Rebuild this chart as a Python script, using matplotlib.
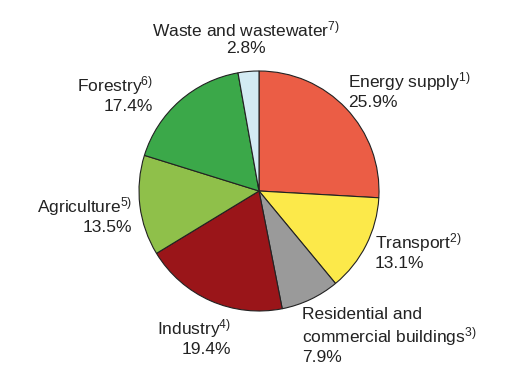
import matplotlib.pyplot as plt

# Parts des émissions par secteur
sectors = ["Energy supply", "Transport", "Residential and\ncommercial buildings",
           "Industry", "Agriculture", "Forestry", "Waste and wastewater"]
notes = ["1)", "2)", "3)", "4)", "5)", "6)", "7)"]
shares = [25.9, 13.1, 7.9, 19.4, 13.5, 17.4, 2.8]
colors = ["#EB5D45", "#FCE94A", "#9A9A9A", "#9A1519", "#8FC04A", "#3BA849", "#D3EBF3"]

plt.rcParams['font.family'] = ['Liberation Sans', 'DejaVu Sans']
plt.rcParams['mathtext.fontset'] = 'custom'
plt.rcParams['mathtext.rm'] = 'Liberation Sans'
plt.rcParams['mathtext.it'] = 'Liberation Sans'

W, H = 531, 379
fig = plt.figure(figsize=(W / 100, H / 100), dpi=100)

# Camembert centré sur (259, 191) px, rayon 120 px
cx, cy, r = 259, 191, 120
ax = fig.add_axes([(cx - r) / W, (H - cy - r) / H, 2 * r / W, 2 * r / H])
ax.pie(shares, colors=colors, startangle=90, counterclock=False,
       wedgeprops=dict(edgecolor="#222222", linewidth=0.8))
ax.set_xlim(-1, 1)
ax.set_ylim(-1, 1)
ax.set_aspect("equal")
ax.axis("off")

# Position des étiquettes (px, coin haut-gauche) et alignement
label_pos = [(348, 90, "left"), (375, 251, "left"), (302, 336, "left"),
             (231, 337, "right"), (132, 215, "right"), (153, 94, "right"),
             (246, 38, "center")]

for name, note, val, (x, y, ha) in zip(sectors, notes, shares, label_pos):
    txt = name + "$^{" + note + "}$\n" + f"{val}%"
    fig.text(x / W, 1 - y / H, txt, ha=ha, va="center", fontsize=12.5,
             color="#222222", linespacing=1.15, multialignment=ha)

fig.savefig("out.png", dpi=100)
